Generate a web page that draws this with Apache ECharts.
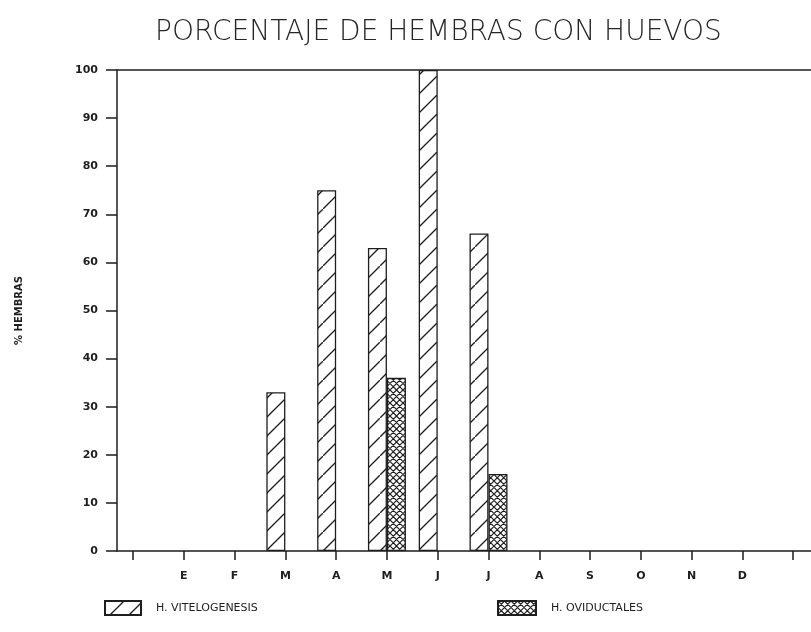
<!DOCTYPE html>
<html>
<head>
<meta charset="utf-8">
<script src="https://cdn.jsdelivr.net/npm/echarts@6/dist/echarts.min.js"></script>
<style>
  html, body { margin: 0; padding: 0; background: #fff; }
  #main { width: 811px; height: 632px; }
</style>
</head>
<body>
<div id="main"></div>
<script>
// datos
var meses = ['E', 'F', 'M', 'A', 'M', 'J', 'J', 'A', 'S', 'O', 'N', 'D'];
var vitelogenesis = [0, 0, 33, 75, 63, 100, 66, 0, 0, 0, 0, 0];
var oviductales = [0, 0, 0, 0, 36, 0, 16, 0, 0, 0, 0, 0];
var yTicks = [0, 10, 20, 30, 40, 50, 60, 70, 80, 90, 100];

var ink = '#1e1e1e';

// trama rayada "/"
function rayado() {
    var c = document.createElement('canvas');
    c.width = 19; c.height = 19;
    var ctx = c.getContext('2d');
    ctx.fillStyle = '#fff';
    ctx.fillRect(0, 0, 19, 19);
    ctx.strokeStyle = ink;
    ctx.lineWidth = 1.3;
    ctx.beginPath();
    ctx.moveTo(-2, 21); ctx.lineTo(21, -2);
    ctx.stroke();
    return c;
}
// trama cruzada
function cruzado() {
    var s = 6.5;
    var c = document.createElement('canvas');
    c.width = 13; c.height = 13;
    var ctx = c.getContext('2d');
    ctx.fillStyle = '#fff';
    ctx.fillRect(0, 0, 13, 13);
    ctx.strokeStyle = ink;
    ctx.lineWidth = 1.2;
    ctx.beginPath();
    for (var k = -2; k <= 4; k++) {
        ctx.moveTo(k * s - 13, 13); ctx.lineTo(k * s, 0);
        ctx.moveTo(k * s, 0); ctx.lineTo(k * s + 13, 13);
    }
    ctx.stroke();
    return c;
}

var myChart = echarts.init(document.getElementById('main'));

// los meses sin hembras no dibujan barra
function pares(valores) {
    var out = [];
    valores.forEach(function (v, i) { if (v > 0) out.push([i + 1, v]); });
    return out;
}
var posTicks = [];
for (var i = 0; i <= meses.length + 1; i++) posTicks.push(i);
var posLabels = meses.map(function (m, i) { return i + 1; });

var labelFont = { fontFamily: 'DejaVu Sans', fontWeight: 'bold', fontSize: 11, color: ink };

myChart.setOption({
    animation: false,
    title: {
        text: 'PORCENTAJE DE HEMBRAS CON HUEVOS',
        left: 150,
        top: 14,
        textStyle: { fontFamily: 'DejaVu Sans', fontWeight: 300, fontSize: 28, color: '#262626' }
    },
    legend: [
        {
            data: ['H. VITELOGENESIS'],
            icon: 'rect',
            left: 99, top: 595,
            itemWidth: 36, itemHeight: 14,
            textStyle: { fontFamily: 'DejaVu Sans', fontSize: 11, color: ink, padding: [0, 0, 0, 10] }
        },
        {
            data: ['H. OVIDUCTALES'],
            icon: 'rect',
            left: 492, top: 595,
            itemWidth: 38, itemHeight: 14,
            textStyle: { fontFamily: 'DejaVu Sans', fontSize: 11, color: ink, padding: [0, 0, 0, 10] }
        }
    ],
    grid: { left: 117, right: 0, top: 70, bottom: 81, containLabel: false },
    xAxis: [
        {
            type: 'value',
            min: -0.315,
            max: 13.35,
            position: 'bottom',
            axisLine: { onZero: false, lineStyle: { color: ink, width: 1.5 } },
            axisTick: { customValues: posTicks, length: 9, lineStyle: { color: ink, width: 1.5 } },
            axisLabel: Object.assign({
                customValues: posLabels,
                margin: 20,
                formatter: function (v) { return meses[Math.round(v) - 1]; }
            }, labelFont),
            splitLine: { show: false }
        },
        {
            type: 'value',
            min: -0.315,
            max: 13.35,
            position: 'top',
            axisLine: { show: true, onZero: false, lineStyle: { color: ink, width: 1.5 } },
            axisTick: { show: false },
            axisLabel: { show: false },
            splitLine: { show: false }
        }
    ],
    yAxis: {
        type: 'value',
        min: yTicks[0],
        max: yTicks[yTicks.length - 1],
        interval: 10,
        name: '% HEMBRAS',
        nameLocation: 'middle',
        nameRotate: 90,
        nameGap: 93,
        nameTextStyle: { fontFamily: 'DejaVu Sans', fontWeight: 'bold', fontSize: 10, color: ink },
        axisLine: { show: true, onZero: false, lineStyle: { color: ink, width: 1.5 } },
        axisTick: { show: true, length: 11, lineStyle: { color: ink, width: 1.5 } },
        axisLabel: Object.assign({ margin: 19 }, labelFont),
        splitLine: { show: false }
    },
    series: [
        {
            name: 'H. VITELOGENESIS',
            type: 'bar',
            data: pares(vitelogenesis),
            barWidth: 19,
            barGap: '0%',
            itemStyle: { color: { image: rayado(), repeat: 'repeat' }, borderColor: ink, borderWidth: 1.3 }
        },
        {
            name: 'H. OVIDUCTALES',
            type: 'bar',
            data: pares(oviductales),
            barWidth: 19,
            barGap: '0%',
            itemStyle: { color: { image: cruzado(), repeat: 'repeat' }, borderColor: ink, borderWidth: 1.3 }
        }
    ]
});
</script>
</body>
</html>
